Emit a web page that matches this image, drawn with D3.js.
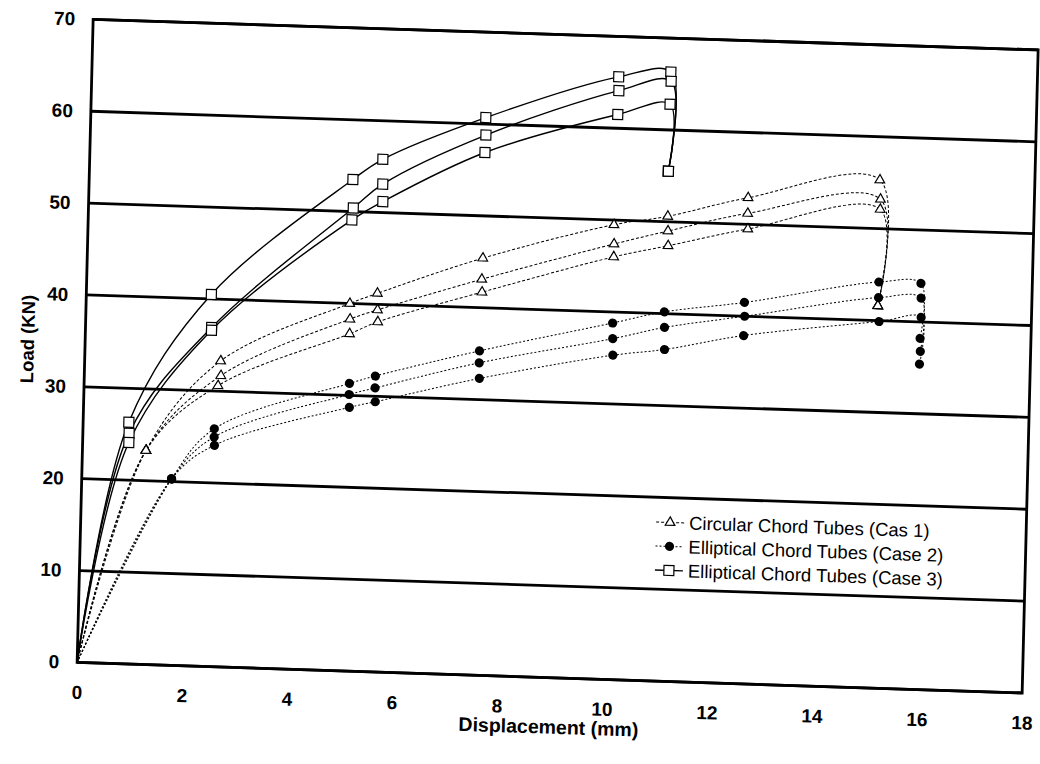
<!DOCTYPE html>
<html><head><meta charset="utf-8">
<script src="https://cdn.jsdelivr.net/npm/d3@7"></script>
<style>html,body{margin:0;padding:0;background:#fff;} svg{display:block;}</style>
</head><body><svg id="chart" width="1040" height="764"></svg>
<script>
// ---- data ----
const xTicks = [0, 2, 4, 6, 8, 10, 12, 14, 16, 18];
const yTicks = [0, 10, 20, 30, 40, 50, 60, 70];
const xTitle = "Displacement (mm)";
const yTitle = "Load (KN)";
const seriesNames = ["Circular Chord Tubes (Cas 1)", "Elliptical Chord Tubes (Case 2)", "Elliptical Chord Tubes (Case 3)"];

// Case 1 – circular chord (triangles), three specimens [displacement, load]
const case1a = [[0,0],[1.21,23.3],[2.59,33.3],[5.02,40.0],[5.54,41.2],[7.53,45.4],[10.01,49.5],[11.03,50.6],[12.55,52.9],[15.05,55.3],[15.07,41.6]];
const case1b = [[0,0],[1.21,23.3],[2.60,31.7],[5.03,38.3],[5.55,39.4],[7.52,43.1],[10.02,47.4],[11.04,49.0],[12.55,51.2],[15.07,53.2],[15.07,41.6]];
const case1c = [[0,0],[1.21,23.3],[2.55,30.6],[5.03,36.7],[5.56,38.1],[7.53,41.7],[10.02,46.0],[11.05,47.4],[12.56,49.5],[15.07,52.1],[15.07,41.6]];
// Case 2 – elliptical chord (filled circles)
const case2a = [[0,0],[1.71,20.3],[2.50,25.9],[5.05,31.3],[5.54,32.2],[7.51,35.3],[10.03,38.8],[11.01,40.2],[12.53,41.5],[15.08,44.2],[15.88,44.2],[15.89,38.2]];
const case2b = [[0,0],[1.71,20.3],[2.50,25.0],[5.05,30.1],[5.54,30.9],[7.51,34.0],[10.04,37.1],[11.02,38.5],[12.54,40.0],[15.08,42.5],[15.89,42.6],[15.90,36.8]];
const case2c = [[0,0],[1.71,20.3],[2.51,24.1],[5.06,28.7],[5.55,29.4],[7.52,32.3],[10.05,35.3],[11.03,36.1],[12.53,37.9],[15.10,39.9],[15.90,40.5],[15.89,35.4]];
// Case 3 – elliptical chord (open squares)
const case3a = [[0,0],[0.87,26.3],[2.38,40.5],[5.02,53.5],[5.58,55.8],[7.52,60.7],[10.03,65.6],[11.02,66.3],[11.02,55.5]];
const case3b = [[0,0],[0.88,25.1],[2.40,36.9],[5.04,50.4],[5.59,53.1],[7.53,58.8],[10.04,64.1],[11.03,65.3],[11.02,55.5]];
const case3c = [[0,0],[0.88,24.1],[2.40,36.6],[5.02,49.1],[5.60,51.2],[7.52,56.9],[10.03,61.5],[11.02,62.8],[11.02,55.5]];

// ---- drawing ----
const FONT = "'Liberation Sans', Arial, sans-serif";
const W = 945, H = 643;
const svg = d3.select("#chart");
svg.append("rect").attr("width", 1040).attr("height", 764).attr("fill", "#fff");
// scanned page is slightly rotated / skewed
const g = svg.append("g").attr("transform", "matrix(1,0.03233,-0.02489,1,93.15,19.4)");

const x = d3.scaleLinear().domain([0, 18]).range([0, W]);
const y = d3.scaleLinear().domain([0, 70]).range([H, 0]);

g.selectAll("line.grid").data(yTicks).join("line").attr("class", "grid")
  .attr("x1", 0).attr("x2", W).attr("y1", d => y(d)).attr("y2", d => y(d))
  .attr("stroke", "#000").attr("stroke-width", 2.8);
g.append("rect").attr("width", W).attr("height", H).attr("fill", "none")
  .attr("stroke", "#000").attr("stroke-width", 2.8);

const ya = g.append("g").call(d3.axisLeft(y).tickValues(yTicks).tickSize(0).tickPadding(18));
ya.select(".domain").remove();
ya.attr("font-size", 19).attr("font-family", FONT).attr("font-weight", "bold");
const xa = g.append("g").attr("transform", `translate(0,${H})`)
  .call(d3.axisBottom(x).tickValues(xTicks).tickSize(0).tickPadding(23));
xa.select(".domain").remove();
xa.attr("font-size", 19).attr("font-family", FONT).attr("font-weight", "bold");

g.append("text").attr("x", W / 2).attr("y", H + 56).attr("text-anchor", "middle")
  .attr("font-size", 19.5).attr("font-weight", "bold").attr("font-family", FONT).text(xTitle);
g.append("text").attr("transform", `translate(-51,${H / 2}) rotate(-90)`).attr("text-anchor", "middle")
  .attr("font-size", 18.5).attr("font-weight", "bold").attr("font-family", FONT).text(yTitle);

const line = d3.line().x(d => x(d[0])).y(d => y(d[1])).curve(d3.curveCatmullRom.alpha(0.5));

const styles = [
  {data: [case1a, case1b, case1c], dash: "3,2", width: 1, marker: "tri"},
  {data: [case2a, case2b, case2c], dash: "2,2", width: 1, marker: "dot"},
  {data: [case3a, case3b, case3c], dash: null, width: 1.4, marker: "sq"}
];

function drawMarker(sel, type) {
  if (type === "tri") {
    sel.append("path").attr("d", d3.symbol(d3.symbolTriangle, 40)())
      .attr("fill", "#fff").attr("stroke", "#000").attr("stroke-width", 1.2);
  } else if (type === "dot") {
    sel.append("circle").attr("r", 4.6).attr("fill", "#000");
  } else {
    sel.append("rect").attr("x", -5).attr("y", -5).attr("width", 10).attr("height", 10)
      .attr("fill", "#fff").attr("stroke", "#000").attr("stroke-width", 1.2);
  }
}

styles.forEach(s => {
  s.data.forEach(ser => {
    g.append("path").datum(ser).attr("d", line).attr("fill", "none")
      .attr("stroke", "#000").attr("stroke-width", s.width)
      .attr("stroke-dasharray", s.dash);
  });
});
styles.forEach(s => {
  s.data.forEach(ser => {
    ser.slice(1).forEach(p => {
      const m = g.append("g").attr("transform", `translate(${x(p[0])},${y(p[1])})`);
      drawMarker(m, s.marker);
    });
  });
});

// legend
const leg = g.append("g");
seriesNames.forEach((name, i) => {
  const row = leg.append("g").attr("transform", `translate(589,${484 + i * 24})`);
  row.append("line").attr("x1", -14).attr("x2", 14).attr("stroke", "#000")
    .attr("stroke-width", styles[i].width).attr("stroke-dasharray", styles[i].dash);
  drawMarker(row, styles[i].marker);
  row.append("text").attr("x", 19).attr("dy", "0.35em").attr("font-size", 18.5)
    .attr("font-family", FONT).text(name);
});
</script>
</body></html>
